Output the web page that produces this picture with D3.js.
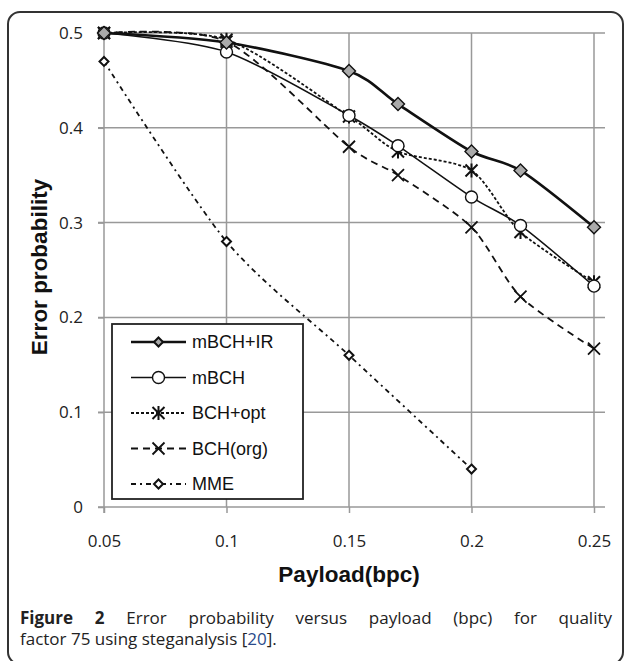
<!DOCTYPE html>
<meta charset="utf-8">
<style>
body { margin: 0; background: #fff; }
svg { display: block; }
.grid line { stroke: #999; stroke-width: 1.5; }
.axis path, .axis line { stroke: #999; stroke-width: 1.5; }
.axis text { font: 17px "Open Sans", sans-serif; fill: #222; }
.ttl { font: bold 22.5px "Liberation Sans", Arial, sans-serif; fill: #111; }
.leg text { font: 18px "Liberation Sans", Arial, sans-serif; fill: #111; }
.cap { font: 17px "Open Sans", sans-serif; fill: #222; }
</style>
<svg width="627" height="661"></svg>
<script src="https://d3js.org/d3.v7.min.js"></script>
<script>

// data
var payload = [0.05, 0.1, 0.15, 0.17, 0.2, 0.22, 0.25];
var mbchIR  = [0.5, 0.49, 0.46, 0.425, 0.375, 0.355, 0.295];
var mbch    = [0.5, 0.48, 0.413, 0.381, 0.327, 0.297, 0.233];
var bchOpt  = [0.5, 0.493, 0.412, 0.375, 0.355, 0.29, 0.237];
var bchOrg  = [0.5, 0.491, 0.38, 0.35, 0.295, 0.222, 0.167];
var mmeX    = [0.05, 0.1, 0.15, 0.2];
var mme     = [0.47, 0.28, 0.16, 0.04];
var xTicks  = [0.05, 0.1, 0.15, 0.2, 0.25];
var yTicks  = [0, 0.1, 0.2, 0.3, 0.4, 0.5];

var series = [
  {name: "mBCH+IR", xs: payload, ys: mbchIR, width: 2.6, dash: null, marker: "diamond", fill: "#aaa"},
  {name: "mBCH", xs: payload, ys: mbch, width: 1.5, dash: null, marker: "circle", fill: "#fff"},
  {name: "BCH+opt", xs: payload, ys: bchOpt, width: 1.8, dash: "3,2", marker: "star", fill: "none"},
  {name: "BCH(org)", xs: payload, ys: bchOrg, width: 1.8, dash: "7,5", marker: "cross", fill: "none"},
  {name: "MME", xs: mmeX, ys: mme, width: 1.8, dash: "5,4,2,4", marker: "diamond", fill: "#fff", small: true}
];

var svg = d3.select("svg");

// rounded frame
svg.append("rect")
    .attr("x", 8).attr("y", 12)
    .attr("width", 615).attr("height", 652)
    .attr("rx", 12)
    .attr("fill", "none")
    .attr("stroke", "#333")
    .attr("stroke-width", 2);

var x = d3.scaleLinear().domain([0.05, 0.25]).range([104, 594]);
var y = d3.scaleLinear().domain([0, 0.5]).range([507, 33]);

// grid
var grid = svg.append("g").attr("class", "grid");
grid.selectAll(".h").data(yTicks.slice(1)).enter().append("line")
    .attr("x1", 98).attr("x2", 605)
    .attr("y1", function(d) { return y(d); })
    .attr("y2", function(d) { return y(d); });
grid.selectAll(".v").data(xTicks.slice(1)).enter().append("line")
    .attr("x1", function(d) { return x(d); })
    .attr("x2", function(d) { return x(d); })
    .attr("y1", y(0.5)).attr("y2", y(0));

svg.append("g")
    .attr("class", "axis")
    .attr("transform", "translate(0," + y(0) + ")")
    .call(d3.axisBottom(x).tickValues(xTicks).tickSize(6).tickPadding(22)
      .tickFormat(function(d) { return String(+d.toFixed(2)); }))
    .call(function(g) { g.select(".domain").attr("d", "M98,0H605"); });

svg.append("g")
    .attr("class", "axis")
    .attr("transform", "translate(" + x(0.05) + ",0)")
    .call(d3.axisLeft(y).tickValues(yTicks).tickSize(6).tickPadding(15)
      .tickFormat(function(d) { return String(+d.toFixed(1)); }))
    .call(function(g) { g.select(".domain").attr("d", "M0," + y(0.5) + "V" + (y(0) + 6)); });

svg.append("text").attr("class", "ttl")
    .attr("x", 349).attr("y", 582)
    .attr("text-anchor", "middle")
    .text("Payload(bpc)");

svg.append("text").attr("class", "ttl")
    .attr("transform", "translate(47,267) rotate(-90)")
    .attr("text-anchor", "middle")
    .text("Error probability");

var line = d3.line()
    .x(function(d) { return x(d[0]); })
    .y(function(d) { return y(d[1]); })
    .curve(d3.curveCardinal.tension(0.2));

function marker(g, type, fill, small) {
  var s = small ? 4.5 : 6.5;
  if (type === "diamond") {
    g.append("path").attr("d", "M0," + (-s) + "L" + s + ",0L0," + s + "L" + (-s) + ",0Z")
      .attr("fill", fill).attr("stroke", "#111").attr("stroke-width", small ? 2 : 1.4);
  } else if (type === "circle") {
    g.append("circle").attr("r", 6).attr("fill", fill).attr("stroke", "#111").attr("stroke-width", 1.4);
  } else if (type === "star") {
    g.append("path").attr("d", "M-6,-6L6,6M-6,6L6,-6M0,-7V7")
      .attr("stroke", "#111").attr("stroke-width", 2).attr("fill", "none");
  } else if (type === "cross") {
    g.append("path").attr("d", "M-6,-6L6,6M-6,6L6,-6")
      .attr("stroke", "#111").attr("stroke-width", 1.8).attr("fill", "none");
  }
}

// draw lines from back to front
series.slice().reverse().forEach(function(s) {
  var pts = s.xs.map(function(v, i) { return [v, s.ys[i]]; });
  var g = svg.append("g");
  g.append("path")
      .attr("d", line(pts))
      .attr("fill", "none")
      .attr("stroke", "#111")
      .attr("stroke-width", s.width)
      .attr("stroke-dasharray", s.dash);
  g.selectAll("g").data(pts).enter().append("g")
      .attr("transform", function(d) { return "translate(" + x(d[0]) + "," + y(d[1]) + ")"; })
      .each(function() { marker(d3.select(this), s.marker, s.fill, s.small); });
});

// legend
var leg = svg.append("g").attr("class", "leg");
leg.append("rect")
    .attr("x", 112).attr("y", 324)
    .attr("width", 191).attr("height", 175)
    .attr("fill", "#fff").attr("stroke", "#222").attr("stroke-width", 1.8);

series.forEach(function(s, i) {
  var row = leg.append("g").attr("transform", "translate(0," + (342 + i * 35.5) + ")");
  row.append("line")
      .attr("x1", 131).attr("x2", 186)
      .attr("stroke", "#111")
      .attr("stroke-width", s.width)
      .attr("stroke-dasharray", s.dash);
  var m = row.append("g").attr("transform", "translate(158.5,0)");
  marker(m, s.marker, s.fill, true);
  row.append("text")
      .attr("x", 192).attr("dy", "0.35em")
      .text(s.name);
});

// caption, first line justified by word spacing
var c1 = svg.append("text").attr("class", "cap")
    .attr("x", 20).attr("y", 624);
c1.append("tspan").attr("font-weight", "bold").text("Figure 2");
c1.append("tspan").text(" Error probability versus payload (bpc) for quality");
var natural = c1.node().getComputedTextLength();
var gaps = 8;
c1.attr("word-spacing", ((592 - natural) / gaps) + "px");

var c2 = svg.append("text").attr("class", "cap")
    .attr("x", 20).attr("y", 645);
c2.append("tspan").text("factor 75 using steganalysis [");
c2.append("tspan").attr("fill", "#2a4a8a").text("20");
c2.append("tspan").text("].");

</script>
